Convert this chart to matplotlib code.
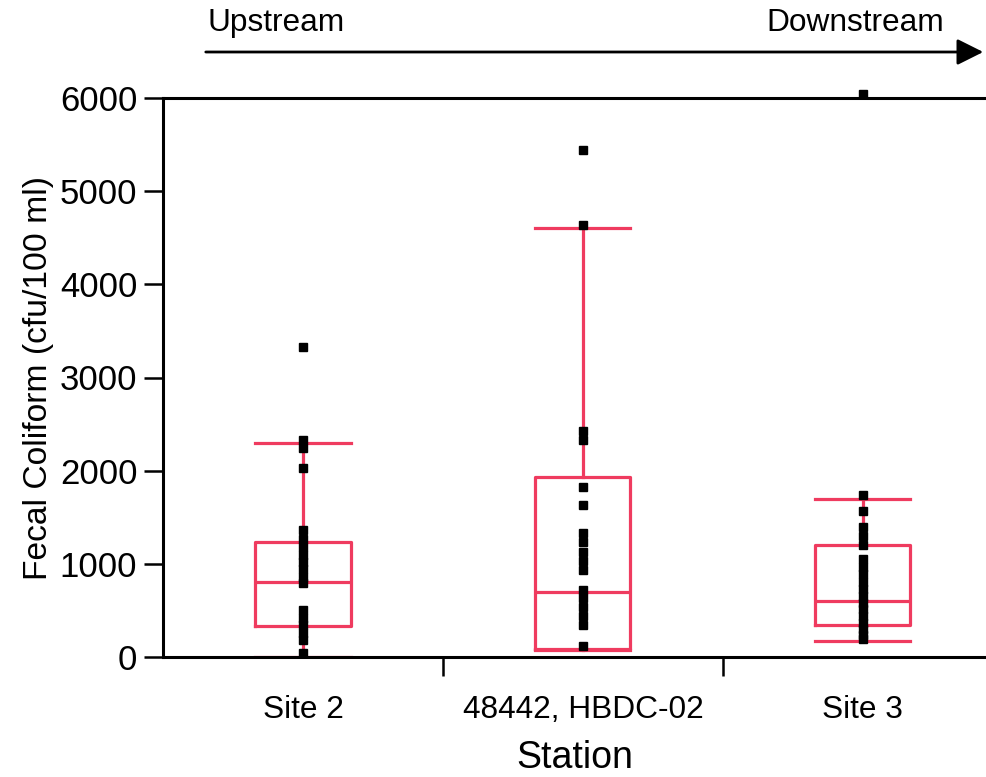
import matplotlib
matplotlib.use("Agg")
import matplotlib.pyplot as plt
from matplotlib.ticker import FixedLocator

plt.rcParams['font.family'] = ['Liberation Sans', 'DejaVu Sans']

stations = ["Site 2", "48442, HBDC-02", "Site 3"]

# box statistics: lower whisker, Q1, median, Q3, upper whisker
whisker_low = [5, 70, 170]
q1 = [333, 90, 340]
median = [800, 700, 600]
q3 = [1230, 1930, 1200]
whisker_high = [2300, 4600, 1700]

# individual samples (cfu/100 ml)
site2_points = [3330, 2330, 2240, 2030, 1360, 1270, 1180, 1100, 1020, 940, 860, 790,
                500, 420, 340, 260, 180, 40]
hbdc_points = [5440, 4640, 2430, 2330, 1830, 1630, 1330, 1230, 1130, 1030, 930,
               720, 630, 540, 440, 340, 120]
site3_points = [6040, 1740, 1570, 1390, 1300, 1200, 1050, 970, 890, 810, 730, 650,
                580, 510, 440, 370, 300, 240, 190]
points = [site2_points, hbdc_points, site3_points]

y_ticks = [0, 1000, 2000, 3000, 4000, 5000, 6000]

red = '#ef3b5f'
W, H = 986, 777
fig = plt.figure(figsize=(W / 100, H / 100), dpi=100)
ax = fig.add_axes([163 / W, (H - 657) / H, (986 - 163) / W, (657 - 98) / H])

stats = []
for i, name in enumerate(stations):
    stats.append(dict(label=name, whislo=whisker_low[i], q1=q1[i], med=median[i],
                      q3=q3[i], whishi=whisker_high[i], fliers=[]))

lw = 2.3
ax.bxp(stats, positions=range(len(stations)), widths=0.34, showfliers=False,
       boxprops=dict(color=red, linewidth=lw),
       medianprops=dict(color=red, linewidth=lw),
       whiskerprops=dict(color=red, linewidth=lw),
       capprops=dict(color=red, linewidth=lw),
       capwidths=0.34, manage_ticks=False)

for i, pts in enumerate(points):
    ax.plot([i] * len(pts), pts, linestyle='none', marker='s', markersize=6.3,
            color='black', clip_on=False, zorder=5)

ax.set_xlim(-0.5, 2.44)
ax.set_ylim(0, 6000)
ax.set_yticks(y_ticks)
ax.set_xticks(range(len(stations)))
ax.set_xticklabels(stations)
ax.xaxis.set_minor_locator(FixedLocator([0.5, 1.5]))
ax.tick_params(axis='x', which='major', length=0, pad=27, labelsize=22.8)
ax.tick_params(axis='x', which='minor', length=13.5, width=1.8, direction='out')
ax.tick_params(axis='y', length=13.5, width=1.8, pad=5, labelsize=25)

for s in ['left', 'bottom', 'top']:
    ax.spines[s].set_linewidth(2.2)
ax.spines['right'].set_visible(False)

ax.set_ylabel("Fecal Coliform (cfu/100 ml)", fontsize=24.2, labelpad=4)
ax.set_xlabel("Station", fontsize=27, labelpad=11)

# upstream -> downstream arrow
ya = 1 - 52 / H
fig.patches.append(matplotlib.patches.FancyArrowPatch(
    (203 / W, ya), (986 / W, ya), transform=fig.transFigure,
    arrowstyle='-|>,head_length=0.8,head_width=0.4', mutation_scale=20,
    color='black', linewidth=2.0))
fig.text(207 / W, 1 - 23 / H, "Upstream", fontsize=22.8, ha='left', va='center')
fig.text(944 / W, 1 - 23 / H, "Downstream", fontsize=22.8, ha='right', va='center')

fig.savefig("out.png", dpi=100)
